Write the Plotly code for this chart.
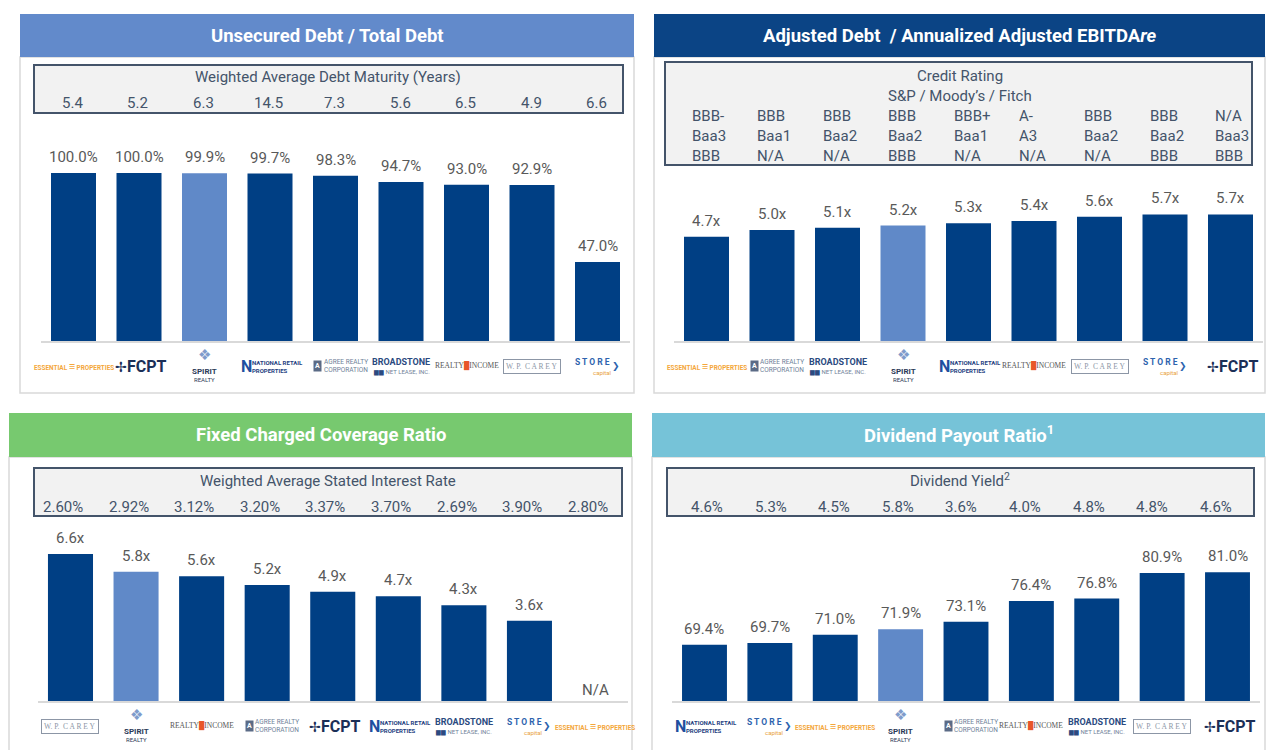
import plotly.graph_objects as go

W, H = 1280, 750

# ---------------- DATA ----------------
p1_companies = ["Essential", "FCPT", "Spirit", "NNN", "Agree", "Broadstone", "Realty Income", "WP Carey", "STORE"]
p1_values = [100.0, 100.0, 99.9, 99.7, 98.3, 94.7, 93.0, 92.9, 47.0]
p1_maturity = ["5.4", "5.2", "6.3", "14.5", "7.3", "5.6", "6.5", "4.9", "6.6"]

p2_companies = ["Essential", "Agree", "Broadstone", "Spirit", "NNN", "Realty Income", "WP Carey", "STORE", "FCPT"]
p2_values = [4.7, 5.0, 5.1, 5.2, 5.3, 5.4, 5.6, 5.7, 5.7]
p2_sp = ["BBB-", "BBB", "BBB", "BBB", "BBB+", "A-", "BBB", "BBB", "N/A"]
p2_moodys = ["Baa3", "Baa1", "Baa2", "Baa2", "Baa1", "A3", "Baa2", "Baa2", "Baa3"]
p2_fitch = ["BBB", "N/A", "N/A", "BBB", "N/A", "N/A", "N/A", "BBB", "BBB"]

p3_companies = ["WP Carey", "Spirit", "Realty Income", "Agree", "FCPT", "NNN", "Broadstone", "STORE", "Essential"]
p3_values = [6.6, 5.8, 5.6, 5.2, 4.9, 4.7, 4.3, 3.6, None]
p3_rate = ["2.60%", "2.92%", "3.12%", "3.20%", "3.37%", "3.70%", "2.69%", "3.90%", "2.80%"]

p4_companies = ["NNN", "STORE", "Essential", "Spirit", "Agree", "Realty Income", "Broadstone", "WP Carey", "FCPT"]
p4_values = [69.4, 69.7, 71.0, 71.9, 73.1, 76.4, 76.8, 80.9, 81.0]
p4_yield = ["4.6%", "5.3%", "4.5%", "5.8%", "3.6%", "4.0%", "4.8%", "4.8%", "4.6%"]

# ---------------- STYLE ----------------
NAVY = "#003F84"
HIGHLIGHT = "#6089C8"
LABEL = "#595959"
BOXTXT = "#44546A"
FONT = "Roboto"


def px(x):
    return x / W


def py(y):
    return 1 - y / H


fig = go.Figure()
shapes = []
ann = []


def add_panel(header, hx0, hx1, hy0, hy1, color, fy1):
    shapes.append(dict(type="rect", xref="paper", yref="paper", x0=px(hx0), x1=px(hx1),
                       y0=py(hy1), y1=py(fy1), line=dict(color="#D9D9D9", width=1.5),
                       fillcolor="rgba(0,0,0,0)", layer="below"))
    shapes.append(dict(type="rect", xref="paper", yref="paper", x0=px(hx0), x1=px(hx1),
                       y0=py(hy1), y1=py(hy0), line=dict(width=0), fillcolor=color, layer="below"))
    ann.append(dict(xref="paper", yref="paper", x=px((hx0 + hx1) / 2), y=py((hy0 + hy1) / 2),
                    text="<b>" + header + "</b>", showarrow=False,
                    font=dict(family=FONT, size=18.5, color="white"), xanchor="center", yanchor="middle"))


def add_box(x0, x1, y0, y1):
    shapes.append(dict(type="rect", xref="paper", yref="paper", x0=px(x0), x1=px(x1),
                       y0=py(y1), y1=py(y0), line=dict(color=BOXTXT, width=2), fillcolor="#F2F2F2",
                       layer="below"))


def txt(x, y, s, size=15, color=BOXTXT, xanchor="center"):
    ann.append(dict(xref="paper", yref="paper", x=px(x), y=py(y), text=s, showarrow=False,
                    font=dict(family=FONT, size=size, color=color), xanchor=xanchor, yanchor="middle"))


def logo(name, xref, cat, ypix):
    base = dict(xref=xref, yref="paper", x=cat, y=py(ypix), showarrow=False,
                xanchor="center", yanchor="middle")
    out = []
    if name == "Essential":
        out.append(dict(base, text="<b>ESSENTIAL <span style='font-size:11px'>≡</span> PROPERTIES</b>",
                        font=dict(family=FONT, size=6.4, color="#F4A73B")))
    elif name == "FCPT":
        out.append(dict(base, text="<span style='font-size:14px'>✢</span><b>FCPT</b>", xshift=2,
                        font=dict(family=FONT, size=16, color="#1B2F57")))
    elif name == "Spirit":
        out.append(dict(base, text="❖", yshift=11, font=dict(family="DejaVu Sans", size=15, color="#7F9CCB")))
        out.append(dict(base, text="<b>SPIRIT</b>", yshift=-5, font=dict(family=FONT, size=8, color="#2B3A57")))
        out.append(dict(base, text="REALTY", yshift=-13, font=dict(family=FONT, size=6, color="#2B3A57")))
    elif name == "NNN":
        out.append(dict(base, text="<b>N</b>", xshift=-24, font=dict(family=FONT, size=16, color="#1F4FA0")))
        out.append(dict(base, text="<b>NATIONAL RETAIL<br>PROPERTIES</b>", xshift=7, align="left",
                        font=dict(family=FONT, size=6, color="#1F3F7F")))
    elif name == "Agree":
        out.append(dict(base, text="<b>A</b>", xshift=-18, bgcolor="#5B6B86", borderpad=1,
                        font=dict(family=FONT, size=7, color="white")))
        out.append(dict(base, text="AGREE REALTY<br>CORPORATION", xshift=10, align="left",
                        font=dict(family=FONT, size=6.5, color="#6F7F99")))
    elif name == "Broadstone":
        out.append(dict(base, text="<b>BROADSTONE</b>", yshift=4, font=dict(family=FONT, size=9, color="#2B4A80")))
        out.append(dict(base, text="<span style='color:#2B4A80'>▆▆</span> NET LEASE, INC.", yshift=-6,
                        font=dict(family=FONT, size=6, color="#6F7F99")))
    elif name == "Realty Income":
        out.append(dict(base, text="REALTY<span style='color:#E8562A'>█</span>INCOME",
                        font=dict(family="Liberation Serif", size=7.5, color="#555555")))
    elif name == "WP Carey":
        out.append(dict(base, text="W. P.  C A R E Y", bordercolor="#8C96A6", borderwidth=1, borderpad=2,
                        font=dict(family="Liberation Serif", size=7.5, color="#8C96A6")))
    elif name == "STORE":
        out.append(dict(base, text="<b>S T O R E</b>", yshift=4, xshift=-5,
                        font=dict(family=FONT, size=8.5, color="#2E63AE")))
        out.append(dict(base, text="capital", yshift=-6, xshift=4, font=dict(family=FONT, size=6, color="#E9A23B")))
        out.append(dict(base, text="<b>❯</b>", xshift=18, font=dict(family="DejaVu Sans", size=9, color="#2E63AE")))
    ann.extend(out)


# ---------------- PANELS ----------------
add_panel("Unsecured Debt / Total Debt", 20, 634, 14, 57, "#628ACB", 393)
add_panel("Adjusted Debt  / Annualized Adjusted EBITDA<i>re</i>", 654, 1265, 14, 57, "#0B4485", 393)
add_panel("Fixed Charged Coverage Ratio", 9, 632, 413, 457, "#77C96F", 752)
add_panel("Dividend Payout Ratio<sup>1</sup>", 652, 1265, 413, 457, "#76C3D8", 752)

# boxes
add_box(34, 623, 65, 113)
txt(328, 77, "Weighted Average Debt Maturity (Years)")
for i, v in enumerate(p1_maturity):
    txt(72 + i * 65.6, 103, v)

add_box(665, 1252, 62, 165)
txt(960, 76, "Credit Rating")
txt(960, 96, "S&P / Moody’s / Fitch")
for i in range(9):
    xl = 690 + i * 65.4
    txt(xl, 116, p2_sp[i], xanchor="left")
    txt(xl, 136, p2_moodys[i], xanchor="left")
    txt(xl, 156, p2_fitch[i], xanchor="left")

add_box(34, 622, 468, 516)
txt(328, 481, "Weighted Average Stated Interest Rate")
for i, v in enumerate(p3_rate):
    txt(63 + i * 65.6, 507, v)

add_box(667, 1254, 468, 516)
txt(960, 480, "Dividend Yield<sup>2</sup>")
for i, v in enumerate(p4_yield):
    txt(707 + i * 63.6, 507, v)

# ---------------- BARS ----------------
def colors(comps):
    return [HIGHLIGHT if c == "Spirit" else NAVY for c in comps]


panels = [
    (p1_companies, p1_values, "x", "y", lambda v: f"{v:.1f}%", 366),
    (p2_companies, p2_values, "x2", "y2", lambda v: f"{v:.1f}x", 366),
    (p3_companies, p3_values, "x3", "y3", lambda v: f"{v:.1f}x", 726),
    (p4_companies, p4_values, "x4", "y4", lambda v: f"{v:.1f}%", 726),
]

for comps, vals, xa, ya, fmt, ly in panels:
    fig.add_trace(go.Bar(x=comps, y=vals, xaxis=xa, yaxis=ya, width=0.687,
                         marker=dict(color=colors(comps), line=dict(width=0)),
                         hoverinfo="skip"))
    for c, v in zip(comps, vals):
        if v is None:
            ann.append(dict(xref=xa, yref=ya, x=c, y=0, yshift=11, text="N/A", showarrow=False,
                            font=dict(family=FONT, size=15, color=LABEL), yanchor="middle"))
        else:
            ann.append(dict(xref=xa, yref=ya, x=c, y=v, yshift=16, text=fmt(v), showarrow=False,
                            font=dict(family=FONT, size=15, color=LABEL), yanchor="middle"))
        logo(c, xa, c, ly)

axis_common = dict(showgrid=False, zeroline=False, showticklabels=False, ticks="", fixedrange=True)
xline = dict(showline=True, linecolor="#D9D9D9", linewidth=1.5)

fig.update_layout(
    width=W, height=H,
    margin=dict(l=0, r=0, t=0, b=0),
    paper_bgcolor="white", plot_bgcolor="rgba(0,0,0,0)",
    showlegend=False, bargap=0.3,
    font=dict(family=FONT),
    xaxis=dict(domain=[px(40.75), px(630.25)], range=[-0.5, 8.5], anchor="y", **axis_common, **xline),
    yaxis=dict(domain=[py(341), py(173)], range=[0, 100], anchor="x", **axis_common),
    xaxis2=dict(domain=[px(673.75), px(1263.25)], range=[-0.5, 8.5], anchor="y2", **axis_common, **xline),
    yaxis2=dict(domain=[py(341), py(207.8)], range=[0, 6], anchor="x2", **axis_common),
    xaxis3=dict(domain=[px(37.7), px(627.8)], range=[-0.5, 8.5], anchor="y3", **axis_common, **xline),
    yaxis3=dict(domain=[py(701), py(545)], range=[0, 7], anchor="x3", **axis_common),
    xaxis4=dict(domain=[px(671.8), px(1260.2)], range=[-0.5, 8.5], anchor="y4", **axis_common, **xline),
    yaxis4=dict(domain=[py(701), py(559.75)], range=[60.4, 83], anchor="x4", **axis_common),
    shapes=shapes,
    annotations=ann,
)

fig.write_html("out.html", config=dict(displayModeBar=False))
